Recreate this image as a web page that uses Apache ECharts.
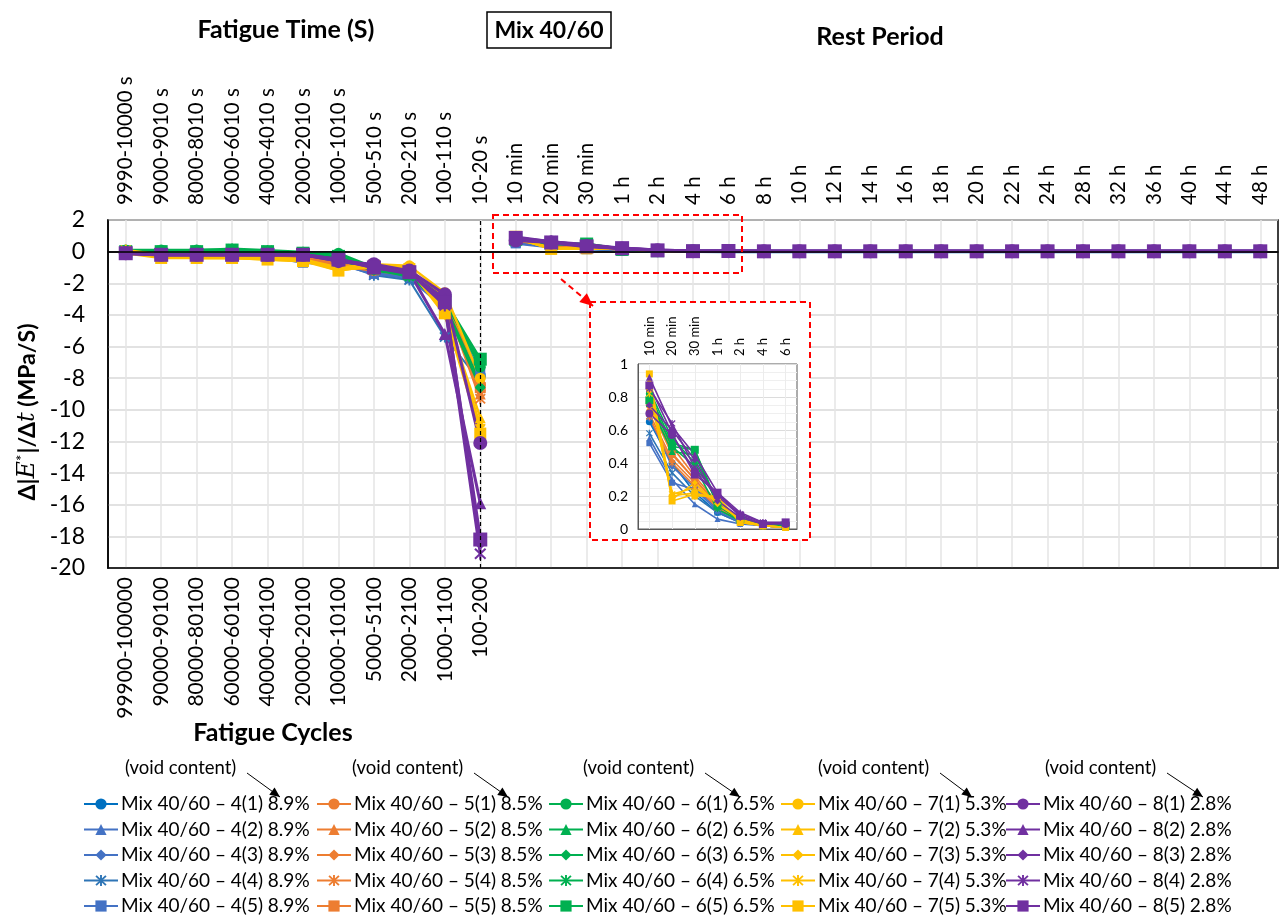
<!DOCTYPE html>
<html><head><meta charset="utf-8">
<script src="https://cdn.jsdelivr.net/npm/echarts@6/dist/echarts.min.js"></script>
<style>html,body{margin:0;padding:0;background:#fff}#c{width:1282px;height:915px}</style>
</head><body><div id="c"></div>
<script>
const FONT = 'Lato, "Open Sans", sans-serif';

const timeLabels = ['9990-10000 s','9000-9010 s','8000-8010 s','6000-6010 s','4000-4010 s','2000-2010 s','1000-1010 s','500-510 s','200-210 s','100-110 s','10-20 s',
  '10 min','20 min','30 min','1 h','2 h','4 h','6 h','8 h','10 h','12 h','14 h','16 h','18 h','20 h','22 h','24 h','28 h','32 h','36 h','40 h','44 h','48 h'];
const cycleLabels = ['99900-100000','90000-90100','80000-80100','60000-60100','40000-40100','20000-20100','10000-10100','5000-5100','2000-2100','1000-1100','100-200'];
const insetLabels = ['10 min','20 min','30 min','1 h','2 h','4 h','6 h'];
const groupIds = ['4','5','6','7','8'];
const voidContent = ['8.9%','8.5%','6.5%','5.3%','2.8%'];

// fatigue phase values (11 points each)
const mix4Fatigue = [
  [-0.1,-0.2,-0.2,-0.2,-0.2,-0.5,-0.6,-1.3,-1.6,-3.1,-7.8],
  [0.0,-0.1,-0.1,-0.1,-0.1,-0.4,-0.7,-1.4,-1.7,-3.6,-7.6],
  [-0.1,-0.1,-0.2,-0.2,-0.2,-0.6,-0.8,-1.3,-1.5,-3.4,-7.9],
  [0.0,-0.2,-0.2,-0.1,-0.2,-0.5,-0.7,-1.5,-1.8,-5.4,-8.2],
  [-0.1,-0.2,-0.2,-0.2,-0.3,-0.7,-0.8,-1.4,-1.6,-3.3,-7.7]
];
const mix5Fatigue = [
  [-0.1,-0.2,-0.3,-0.3,-0.3,-0.4,-0.9,-1.2,-1.4,-3.0,-8.4],
  [-0.1,-0.2,-0.3,-0.2,-0.3,-0.4,-0.8,-1.1,-1.3,-3.2,-9.0],
  [0.0,-0.2,-0.2,-0.2,-0.2,-0.3,-0.8,-1.0,-1.4,-2.9,-8.8],
  [-0.1,-0.1,-0.2,-0.2,-0.3,-0.3,-0.9,-1.2,-1.5,-3.1,-9.3],
  [-0.1,-0.2,-0.3,-0.3,-0.3,-0.4,-1.0,-1.1,-1.3,-2.8,-8.6]
];
const mix6Fatigue = [
  [0.1,0.1,0.1,0.1,0.0,-0.1,-0.1,-1.0,-1.3,-3.0,-7.3],
  [0.1,0.0,0.1,0.1,0.0,-0.1,-0.3,-1.1,-1.4,-3.2,-7.0],
  [0.0,0.0,0.0,0.0,-0.1,-0.2,-0.5,-1.2,-1.5,-3.5,-8.6],
  [0.1,0.1,0.1,0.2,0.1,0.0,-0.4,-1.1,-1.6,-3.3,-8.3],
  [0.0,0.0,0.0,0.1,0.0,-0.1,-0.3,-1.0,-1.4,-3.1,-6.8]
];
const mix7Fatigue = [
  [-0.1,-0.3,-0.4,-0.4,-0.4,-0.5,-1.0,-0.8,-0.9,-2.6,-8.0],
  [0.0,-0.2,-0.4,-0.4,-0.5,-0.6,-1.1,-0.9,-1.0,-3.8,-10.5],
  [-0.1,-0.3,-0.3,-0.4,-0.4,-0.5,-1.2,-0.9,-1.1,-4.0,-11.0],
  [0.1,-0.2,-0.3,-0.3,-0.4,-0.5,-1.1,-1.0,-1.0,-3.5,-11.2],
  [-0.1,-0.4,-0.4,-0.4,-0.5,-0.6,-1.2,-0.9,-1.1,-3.9,-11.5]
];
const mix8Fatigue = [
  [-0.1,-0.2,-0.2,-0.2,-0.2,-0.2,-0.6,-0.8,-1.2,-2.7,-12.1],
  [-0.1,-0.2,-0.2,-0.2,-0.2,-0.2,-0.5,-0.9,-1.3,-5.2,-15.9],
  [-0.1,-0.2,-0.2,-0.2,-0.2,-0.2,-0.5,-1.0,-1.4,-3.0,-18.5],
  [-0.1,-0.2,-0.2,-0.2,-0.2,-0.2,-0.6,-0.9,-1.3,-3.4,-19.1],
  [-0.1,-0.2,-0.2,-0.2,-0.2,-0.2,-0.5,-1.0,-1.3,-3.2,-18.2]
];

// rest period values (22 points each: 10 min ... 48 h)
const mix4Rest = [
  [0.65,0.40,0.22,0.10,0.04,0.02,0.01,0.01,0.01,0.01,0.01,0.01,0.01,0.01,0.01,0.01,0.01,0.01,0.01,0.01,0.01,0.01],
  [0.55,0.30,0.15,0.06,0.03,0.02,0.01,0.01,0.01,0.00,0.01,0.01,0.00,0.01,0.01,0.01,0.00,0.01,0.01,0.01,0.00,0.01],
  [0.67,0.38,0.25,0.12,0.05,0.02,0.01,0.01,0.01,0.01,0.01,0.01,0.01,0.01,0.01,0.01,0.01,0.01,0.01,0.01,0.01,0.01],
  [0.58,0.34,0.20,0.10,0.04,0.02,0.01,0.01,0.01,0.01,0.00,0.01,0.01,0.01,0.01,0.00,0.01,0.01,0.01,0.01,0.01,0.01],
  [0.52,0.28,0.24,0.11,0.04,0.02,0.01,0.01,0.01,0.01,0.01,0.01,0.01,0.01,0.01,0.01,0.01,0.01,0.01,0.01,0.01,0.01]
];
const mix5Rest = [
  [0.75,0.45,0.30,0.15,0.06,0.03,0.02,0.01,0.01,0.01,0.01,0.01,0.01,0.01,0.01,0.01,0.01,0.01,0.01,0.01,0.01,0.01],
  [0.70,0.42,0.28,0.14,0.05,0.03,0.02,0.01,0.01,0.01,0.01,0.01,0.01,0.01,0.01,0.01,0.01,0.01,0.01,0.01,0.01,0.01],
  [0.72,0.50,0.32,0.16,0.06,0.03,0.02,0.01,0.01,0.01,0.01,0.01,0.01,0.01,0.01,0.01,0.01,0.01,0.01,0.01,0.01,0.01],
  [0.68,0.40,0.26,0.13,0.05,0.03,0.02,0.01,0.01,0.01,0.01,0.01,0.01,0.01,0.01,0.01,0.01,0.01,0.01,0.01,0.01,0.01],
  [0.78,0.46,0.30,0.15,0.06,0.03,0.02,0.01,0.01,0.01,0.01,0.01,0.01,0.01,0.01,0.01,0.01,0.01,0.01,0.01,0.01,0.01]
];
const mix6Rest = [
  [0.82,0.52,0.48,0.16,0.06,0.03,0.02,0.01,0.01,0.01,0.01,0.01,0.01,0.01,0.01,0.01,0.01,0.01,0.01,0.01,0.01,0.01],
  [0.76,0.47,0.45,0.15,0.05,0.02,0.02,0.01,0.01,0.01,0.01,0.01,0.01,0.01,0.01,0.01,0.01,0.01,0.01,0.01,0.01,0.01],
  [0.84,0.55,0.40,0.17,0.06,0.03,0.02,0.01,0.01,0.01,0.01,0.01,0.01,0.01,0.01,0.01,0.01,0.01,0.01,0.01,0.01,0.01],
  [0.80,0.50,0.38,0.12,0.05,0.02,0.02,0.01,0.01,0.01,0.01,0.01,0.01,0.01,0.01,0.01,0.01,0.01,0.01,0.01,0.01,0.01],
  [0.78,0.50,0.48,0.14,0.06,0.03,0.02,0.01,0.01,0.01,0.01,0.01,0.01,0.01,0.01,0.01,0.01,0.01,0.01,0.01,0.01,0.01]
];
const mix7Rest = [
  [0.85,0.20,0.22,0.18,0.05,0.02,0.01,0.01,0.01,0.01,0.01,0.01,0.01,0.01,0.01,0.01,0.01,0.01,0.01,0.01,0.01,0.01],
  [0.90,0.22,0.20,0.20,0.04,0.02,0.01,0.01,0.01,0.01,0.01,0.01,0.01,0.01,0.01,0.01,0.01,0.01,0.01,0.01,0.01,0.01],
  [0.88,0.18,0.28,0.15,0.06,0.02,0.01,0.01,0.01,0.01,0.01,0.01,0.01,0.01,0.01,0.01,0.01,0.01,0.01,0.01,0.01,0.01],
  [0.82,0.21,0.25,0.17,0.05,0.02,0.01,0.01,0.01,0.01,0.01,0.01,0.01,0.01,0.01,0.01,0.01,0.01,0.01,0.01,0.01,0.01],
  [0.94,0.17,0.21,0.19,0.04,0.02,0.01,0.01,0.01,0.01,0.01,0.01,0.01,0.01,0.01,0.01,0.01,0.01,0.01,0.01,0.01,0.01]
];
const mix8Rest = [
  [0.70,0.57,0.35,0.20,0.08,0.03,0.03,0.02,0.02,0.02,0.02,0.02,0.02,0.02,0.02,0.02,0.02,0.02,0.02,0.02,0.02,0.02],
  [0.92,0.62,0.45,0.22,0.10,0.04,0.04,0.02,0.02,0.02,0.02,0.02,0.02,0.02,0.02,0.02,0.02,0.02,0.02,0.02,0.02,0.02],
  [0.75,0.60,0.42,0.17,0.07,0.03,0.04,0.02,0.02,0.02,0.02,0.02,0.02,0.02,0.02,0.02,0.02,0.02,0.02,0.02,0.02,0.02],
  [0.85,0.64,0.37,0.21,0.09,0.04,0.03,0.02,0.02,0.02,0.02,0.02,0.02,0.02,0.02,0.02,0.02,0.02,0.02,0.02,0.02,0.02],
  [0.87,0.58,0.33,0.22,0.08,0.03,0.04,0.02,0.02,0.02,0.02,0.02,0.02,0.02,0.02,0.02,0.02,0.02,0.02,0.02,0.02,0.02]
];

const fatigueData = [mix4Fatigue, mix5Fatigue, mix6Fatigue, mix7Fatigue, mix8Fatigue];
const restData = [mix4Rest, mix5Rest, mix6Rest, mix7Rest, mix8Rest];

const groupColors = [
  ['#0070C0','#4472C4','#4472C4','#2E75B6','#4472C4'],
  ['#ED7D31','#ED7D31','#ED7D31','#ED7D31','#ED7D31'],
  ['#00B050','#00B050','#00B050','#00B050','#00B050'],
  ['#FFC000','#FFC000','#FFC000','#FFC000','#FFC000'],
  ['#7030A0','#7030A0','#7030A0','#7030A0','#7030A0']
];
const STAR = 'path://M4.2 0H5.8V10H4.2Z M0.3 1.4L1.4 0.3L9.7 8.6L8.6 9.7Z M8.6 0.3L9.7 1.4L1.4 9.7L0.3 8.6Z';
const symbols = ['circle','triangle','diamond',STAR,'rect'];
const symSizes = [
  [11,10,12,11,10],
  [11,11,11,11,11],
  [11,11,11,10,13],
  [11,11,10,11,12],
  [14,12,11,12,14]
];
const lineWidths = [
  [3.5,2,3,2,2.5],
  [2.5,2.5,2.5,2.5,2.5],
  [2.5,2.5,2.5,2,3],
  [2.5,2.5,2.5,2.5,2.5],
  [3,3,3,3,3.5]
];

const seriesNames = [];
const series = [];
const mainBase = (gi, k, name) => ({
  name, type: 'line', xAxisIndex: 0, yAxisIndex: 0,
  symbol: symbols[k], symbolSize: symSizes[gi][k],
  lineStyle: { color: groupColors[gi][k], width: lineWidths[gi][k] },
  itemStyle: { color: groupColors[gi][k] },
  connectNulls: false, z: 2
});
groupIds.forEach((g, gi) => {
  for (let k = 0; k < 5; k++) {
    const name = `Mix 40/60 \u2013 ${g}(${k+1}) ${voidContent[gi]}`;
    seriesNames.push(name);
    const fat = fatigueData[gi][k], rest = restData[gi][k];
    // fatigue phase (rest period left empty)
    const s1 = Object.assign(mainBase(gi, k, name), { data: fat.concat(rest.map(() => null)) });
    if (gi === 0 && k === 0) {
      s1.markLine = {
        silent: true, symbol: 'none', animation: false, label: { show: false },
        data: [
          { yAxis: 0, lineStyle: { color: '#000', width: 1.5, type: 'solid' } },
          { xAxis: '10-20 s', lineStyle: { color: '#000', width: 1.2, type: [4, 3] } }
        ]
      };
    }
    series.push(s1);
  }
});
groupIds.forEach((g, gi) => {
  for (let k = 0; k < 5; k++) {
    const fat = fatigueData[gi][k], rest = restData[gi][k];
    // rest period (separate segment)
    series.push(Object.assign(mainBase(gi, k, seriesNames[gi * 5 + k]), { data: fat.map(() => null).concat(rest) }));
  }
});
groupIds.forEach((g, gi) => {
  for (let k = 0; k < 5; k++) {
    series.push({
      name: seriesNames[gi * 5 + k], type: 'line', xAxisIndex: 2, yAxisIndex: 1,
      data: restData[gi][k].slice(0, insetLabels.length),
      symbol: symbols[k], symbolSize: Math.round(symSizes[gi][k] * 0.6),
      lineStyle: { color: groupColors[gi][k], width: 1.6 },
      itemStyle: { color: groupColors[gi][k] },
      z: 8
    });
  }
});

const bottomLabels = cycleLabels.concat(timeLabels.slice(cycleLabels.length).map(() => ''));

const legendLefts = [78, 311, 543, 775, 1000];
const legends = groupIds.map((g, gi) => ({
  orient: 'vertical', left: legendLefts[gi], top: 789, height: 160,
  itemWidth: 34, itemHeight: 14, itemGap: 5.5,
  selectedMode: false,
  data: seriesNames.slice(gi * 5, gi * 5 + 5),
  textStyle: { fontFamily: FONT, fontSize: 19, color: '#000', lineHeight: 20, padding: [0, 0, 0, -2] }
}));

// annotations
const graphics = [];
function addText(x, y, text, opts) {
  graphics.push({ type: 'text', x, y, z: 20, style: Object.assign({ text, fill: '#000', font: `19px ${FONT}`, textAlign: 'left', textVerticalAlign: 'middle' }, opts || {}) });
}
function addArrow(x1, y1, x2, y2, color, dashed, head) {
  graphics.push({ type: 'line', z: 20, shape: { x1, y1, x2, y2 }, style: { stroke: color, lineWidth: dashed ? 2 : 1, lineDash: dashed ? [6, 4] : null } });
  const a = Math.atan2(y2 - y1, x2 - x1);
  const L = head, W = head * 0.45;
  const bx = x2 - L * Math.cos(a), by = y2 - L * Math.sin(a);
  graphics.push({ type: 'polygon', z: 20, shape: { points: [[x2, y2], [bx + W * Math.sin(a), by - W * Math.cos(a)], [bx - W * Math.sin(a), by + W * Math.cos(a)]] }, style: { fill: color } });
}
addText(286, 30, 'Fatigue Time (S)', { font: `bold 25px ${FONT}`, textAlign: 'center' });
addText(880, 37, 'Rest Period', { font: `bold 25px ${FONT}`, textAlign: 'center' });
addText(273, 733, 'Fatigue Cycles', { font: `bold 25px ${FONT}`, textAlign: 'center' });
graphics.push({ type: 'rect', z: 20, shape: { x: 487, y: 12, width: 124, height: 36 }, style: { fill: '#fff', stroke: '#000', lineWidth: 1.5 } });
addText(549, 31, 'Mix 40/60', { font: `bold 23px ${FONT}`, textAlign: 'center' });

// y-axis title (rotated rich text)
graphics.push({
  type: 'text', x: 28, y: 412, rotation: Math.PI / 2, z: 20,
  style: {
    text: '{b|\u0394|}{i|E}{s|*}{b||/\u0394}{i|t}{b| (MPa/S)}',
    textAlign: 'center', textVerticalAlign: 'middle',
    rich: {
      b: { fontSize: 23, fontWeight: 'bold', fill: '#000', fontFamily: FONT },
      i: { fontSize: 24, fontStyle: 'italic', fill: '#000', fontFamily: '"DejaVu Serif", serif' },
      s: { fontSize: 15, fill: '#000', fontFamily: FONT, verticalAlign: 'top', padding: [0, 1, 12, 0] }
    }
  }
});

const voidX = [125, 352, 583, 818, 1045];
const tipX = [280, 508, 740, 972, 1203];
voidX.forEach((x, i) => {
  addText(x, 768, '(void content)', { font: `18.5px ${FONT}` });
  addArrow(x + 122, 773, tipX[i], 797, '#000', false, 10);
});

// red zoom rectangles
graphics.push({ type: 'rect', z: 20, shape: { x: 493, y: 215, width: 249, height: 58 }, style: { fill: null, stroke: '#FF0000', lineWidth: 2, lineDash: [6, 4] } });
graphics.push({ type: 'rect', z: 5, shape: { x: 590, y: 302, width: 220, height: 238 }, style: { fill: '#fff', stroke: '#FF0000', lineWidth: 2, lineDash: [6, 4] } });
addArrow(561, 279, 593, 306, '#FF0000', true, 13);

const option = {
  animation: false,
  backgroundColor: '#fff',
  textStyle: { fontFamily: FONT },
  graphic: graphics,
  legend: legends,
  grid: [
    { left: 108, top: 220, width: 1170, height: 348, show: true, borderColor: '#000', borderWidth: 1.5, backgroundColor: 'transparent', containLabel: false, outerBoundsMode: 'none' },
    { left: 638, top: 364, width: 159, height: 165, show: true, borderColor: '#595959', borderWidth: 1, backgroundColor: '#fff', z: 6, containLabel: false, outerBoundsMode: 'none' }
  ],
  xAxis: [
    { type: 'category', gridIndex: 0, position: 'top', data: timeLabels, boundaryGap: true,
      axisLine: { show: true, lineStyle: { color: '#000', width: 1.5 } }, axisTick: { show: false },
      axisLabel: { rotate: 90, interval: 0, fontSize: 20.5, color: '#000', margin: 15, fontFamily: FONT },
      splitLine: { show: true, alignWithLabel: true, lineStyle: { color: '#e4e4e4', width: 1.5 } } },
    { type: 'category', gridIndex: 0, position: 'bottom', data: bottomLabels, boundaryGap: true,
      axisLine: { show: true, lineStyle: { color: '#000', width: 1.5 } }, axisTick: { show: false },
      axisLabel: { rotate: 90, interval: 0, fontSize: 21, color: '#000', margin: 9, fontFamily: FONT },
      splitLine: { show: false } },
    { type: 'category', gridIndex: 1, position: 'top', data: insetLabels, boundaryGap: true, z: 7,
      axisLine: { show: true, lineStyle: { color: '#595959' } }, axisTick: { show: false },
      axisLabel: { rotate: 90, interval: 0, fontSize: 13, color: '#000', margin: 8, fontFamily: FONT },
      splitLine: { show: true, alignWithLabel: true, lineStyle: { color: '#ececec' } } }
  ],
  yAxis: [
    { type: 'value', gridIndex: 0, min: -20, max: 2, interval: 2,
      axisLine: { show: true, lineStyle: { color: '#000', width: 1.5 } }, axisTick: { show: false },
      axisLabel: { fontSize: 23, color: '#000', margin: 23, fontFamily: FONT },
      splitLine: { show: true, lineStyle: { color: '#d9d9d9', width: 1.5 } } },
    { type: 'value', gridIndex: 1, min: 0, max: 1, interval: 0.2, z: 7,
      axisLine: { show: true, lineStyle: { color: '#595959' } }, axisTick: { show: false },
      axisLabel: { fontSize: 14, color: '#000', margin: 10, fontFamily: FONT },
      splitLine: { show: true, lineStyle: { color: '#dcdcdc' } },
      minorTick: { show: false, splitNumber: 4 },
      minorSplitLine: { show: true, lineStyle: { color: '#efefef' } } }
  ],
  series
};

const chart = echarts.init(document.getElementById('c'), null, { renderer: 'canvas' });
chart.setOption(option);
</script>
</body></html>
